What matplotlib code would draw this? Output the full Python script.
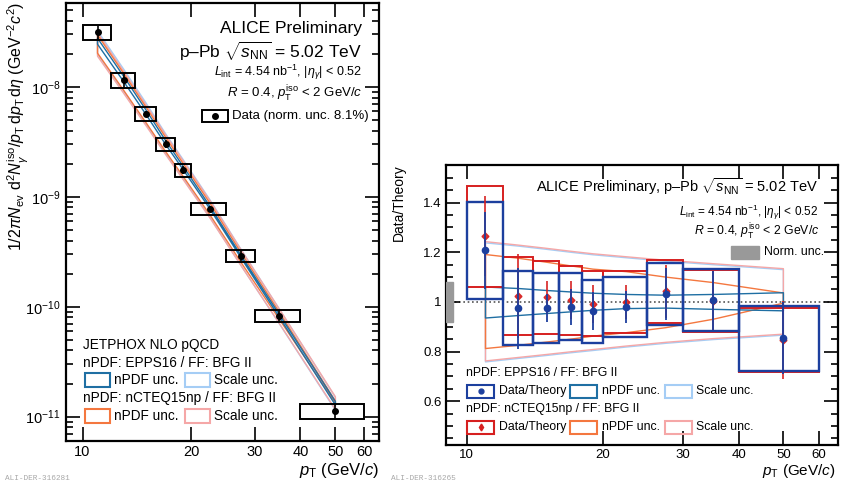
import numpy as np
import matplotlib
matplotlib.use("Agg")
import matplotlib.pyplot as plt
import matplotlib.transforms as mtransforms
from matplotlib.patches import Rectangle
from matplotlib.ticker import FixedLocator, NullLocator, LogLocator, NullFormatter, MultipleLocator

plt.rcParams['font.family'] = ['Liberation Sans', 'DejaVu Sans']
plt.rcParams['mathtext.fontset'] = 'custom'
plt.rcParams['mathtext.rm'] = 'Liberation Sans'
plt.rcParams['mathtext.it'] = 'Liberation Sans:italic'
plt.rcParams['mathtext.bf'] = 'Liberation Sans:bold'
plt.rcParams['mathtext.sf'] = 'Liberation Sans'

# ---- data ----
pt = [11, 13, 15, 17, 19, 22.5, 27.5, 35, 50]
bin_lo = [10, 12, 14, 16, 18, 20, 25, 30, 40]
bin_hi = [12, 14, 16, 18, 20, 25, 30, 40, 60]
yield_data = [3.16e-8, 1.15e-8, 5.7e-9, 3.03e-9, 1.75e-9, 7.8e-10, 2.9e-10, 8.3e-11, 1.13e-11]
sys_rel = [0.161, 0.153, 0.145, 0.138, 0.132, 0.125, 0.121, 0.124, 0.153]

ratio_epps = [1.208, 0.975, 0.975, 0.98, 0.963, 0.979, 1.031, 1.006, 0.854]
stat_epps = [0.155, 0.163, 0.058, 0.074, 0.078, 0.066, 0.105, 0.12, 0.145]
ratio_ncteq = [1.265, 1.023, 1.018, 1.007, 0.992, 0.999, 1.042, 1.005, 0.845]
stat_ncteq = [0.16, 0.17, 0.065, 0.076, 0.078, 0.068, 0.105, 0.12, 0.157]

# theory bands relative to their own central value
epps_npdf_hi = [1.06, 1.054, 1.046, 1.04, 1.035, 1.03, 1.027, 1.03, 1.037]
epps_npdf_lo = [0.935, 0.945, 0.953, 0.96, 0.966, 0.973, 0.975, 0.97, 0.964]
epps_scale_hi = [1.238, 1.225, 1.212, 1.2, 1.19, 1.178, 1.164, 1.15, 1.13]
epps_scale_lo = [0.758, 0.772, 0.784, 0.795, 0.804, 0.818, 0.833, 0.848, 0.866]
ncteq_npdf_hi = [1.191, 1.176, 1.16, 1.145, 1.132, 1.122, 1.10, 1.078, 1.036]
ncteq_npdf_lo = [0.812, 0.825, 0.838, 0.85, 0.862, 0.876, 0.896, 0.93, 0.995]
ncteq_scale_hi = [1.243, 1.229, 1.216, 1.204, 1.194, 1.182, 1.168, 1.154, 1.134]
ncteq_scale_lo = [0.762, 0.776, 0.788, 0.799, 0.808, 0.822, 0.837, 0.852, 0.870]

norm_unc = 0.081
xticks = [10, 20, 30, 40, 50, 60]

c_npdf_epps = '#1f6fa3'
c_scale_epps = '#a5cdf5'
c_npdf_ncteq = '#f4773f'
c_scale_ncteq = '#f5a7a7'
c_blue = '#1c3f9e'
c_red = '#d61f1f'

W, H = 842, 487
fig = plt.figure(figsize=(W / 100, H / 100), dpi=100)


def frame(x0, y0, x1, y1):
    return [x0 / W, 1 - y1 / H, (x1 - x0) / W, (y1 - y0) / H]


ax1 = fig.add_axes(frame(66, 3, 379, 441))
ax2 = fig.add_axes(frame(446, 165, 838, 445))
ov = fig.add_axes([0, 0, 1, 1], zorder=10)
ov.set_xlim(0, W)
ov.set_ylim(H, 0)
ov.axis('off')


def style(ax, lab):
    for s in ax.spines.values():
        s.set_linewidth(1.6)
    ax.set_xscale('log')
    ax.set_xlim(9, 66)
    ax.xaxis.set_major_locator(FixedLocator(xticks))
    ax.xaxis.set_minor_locator(NullLocator())
    ax.set_xticklabels([str(t) for t in xticks])
    ax.tick_params(which='both', direction='in', top=True, right=True, width=1.2, labelsize=lab)
    ax.tick_params(which='major', length=10)
    ax.tick_params(which='minor', length=5)
    ax.tick_params(axis='x', pad=3)
    ax.tick_params(axis='y', pad=4)


pt_a = np.array(pt)
y_a = np.array(yield_data)
rel_stat = np.array(stat_epps) / np.array(ratio_epps)
th_epps = y_a / np.array(ratio_epps)
th_ncteq = y_a / np.array(ratio_ncteq)

# ---- left panel: spectrum ----
style(ax1, 10.5)
ax1.set_yscale('log')
ax1.set_ylim(6e-12, 5.8e-8)
ax1.yaxis.set_major_locator(LogLocator(base=10))
ax1.yaxis.set_minor_locator(LogLocator(base=10, subs=np.arange(2, 10)))
ax1.yaxis.set_minor_formatter(NullFormatter())

bands = [
    (epps_scale_lo, epps_scale_hi, th_epps, c_scale_epps),
    (ncteq_scale_lo, ncteq_scale_hi, th_ncteq, c_scale_ncteq),
    (ncteq_npdf_lo, ncteq_npdf_hi, th_ncteq, c_npdf_ncteq),
    (epps_npdf_lo, epps_npdf_hi, th_epps, c_npdf_epps),
]
for lo, hi, th, c in bands:
    ax1.fill_between(pt_a, th * np.array(lo), th * np.array(hi), facecolor='none', edgecolor=c, lw=1.0)

for i in range(len(pt)):
    ax1.add_patch(Rectangle((bin_lo[i], yield_data[i] * (1 - sys_rel[i])), bin_hi[i] - bin_lo[i],
                            2 * sys_rel[i] * yield_data[i], fill=False, ec='k', lw=1.4, zorder=4))
ax1.errorbar(pt_a, y_a, yerr=y_a * rel_stat, fmt='o', color='k', ms=4, elinewidth=1.2, capsize=0, zorder=5)

# ---- right panel: data / theory ----
style(ax2, 9.5)
ax2.set_ylim(0.423, 1.552)
ax2.yaxis.set_major_locator(FixedLocator([0.6, 0.8, 1.0, 1.2, 1.4]))
ax2.set_yticklabels(['0.6', '0.8', '1', '1.2', '1.4'])
ax2.yaxis.set_minor_locator(MultipleLocator(0.05))
ax2.tick_params(axis='y', pad=3)

ax2.axhline(1, color='#555555', ls=(0, (1, 1.6)), lw=1.2, zorder=1)
blend = mtransforms.blended_transform_factory(ax2.transAxes, ax2.transData)
ax2.add_patch(Rectangle((0, 1 - norm_unc), 0.018, 2 * norm_unc, transform=blend, color='#999999', zorder=3))

for lo, hi, c in [(epps_scale_lo, epps_scale_hi, c_scale_epps),
                  (ncteq_scale_lo, ncteq_scale_hi, c_scale_ncteq),
                  (ncteq_npdf_lo, ncteq_npdf_hi, c_npdf_ncteq),
                  (epps_npdf_lo, epps_npdf_hi, c_npdf_epps)]:
    ax2.fill_between(pt_a, lo, hi, facecolor='none', edgecolor=c, lw=1.0, zorder=2)

for ratio, c, lw in [(ratio_ncteq, c_red, 1.4), (ratio_epps, c_blue, 1.7)]:
    for i in range(len(pt)):
        ax2.add_patch(Rectangle((bin_lo[i], ratio[i] * (1 - sys_rel[i])), bin_hi[i] - bin_lo[i],
                                2 * sys_rel[i] * ratio[i], fill=False, ec=c, lw=lw, zorder=4))

ax2.errorbar(pt_a, ratio_ncteq, yerr=stat_ncteq, fmt='D', color=c_red, ms=3.5, elinewidth=1.3,
             capsize=0, alpha=0.9, zorder=5)
ax2.errorbar(pt_a, ratio_epps, yerr=stat_epps, fmt='o', color=c_blue, ms=4.5, elinewidth=1.3,
             capsize=0, zorder=6)

# ---- texts, left ----
ov.text(18, 2, r'$1/2\pi N_{\rm ev}\ {\rm d}^2N_{\gamma}^{\rm iso}/p_{\rm T}\,{\rm d}p_{\rm T}\,{\rm d}\eta\ ({\rm GeV}^{-2}c^2)$',
        rotation=90, ha='center', va='top', fontsize=11.5)
ov.text(379, 471, r'$p_{\rm T}$ (GeV/$c$)', ha='right', va='center', fontsize=12)
ov.text(362, 28, 'ALICE Preliminary', ha='right', va='center', fontsize=12.5)
ov.text(362, 51, r'p–Pb $\sqrt{s_{\rm NN}}$ = 5.02 TeV', ha='right', va='center', fontsize=12.5)
ov.text(362, 72, r'$L_{\rm int}$ = 4.54 nb$^{-1}$, |$\eta_{\gamma}$| < 0.52', ha='right', va='center', fontsize=9)
ov.text(362, 94, r'$R$ = 0.4, $p_{\rm T}^{\rm iso}$ < 2 GeV/$c$', ha='right', va='center', fontsize=9.5)
ov.add_patch(Rectangle((202, 109.5), 26, 12.5, fill=False, ec='k', lw=1.4))
ov.plot([215], [115.7], 'o', color='k', ms=4)
ov.text(232, 115.7, 'Data (norm. unc. 8.1%)', ha='left', va='center', fontsize=9.5)

ov.text(83, 345, 'JETPHOX NLO pQCD', ha='left', va='center', fontsize=9.8)
ov.text(83, 363, 'nPDF: EPPS16 / FF: BFG II', ha='left', va='center', fontsize=9.8)
ov.text(83, 398, 'nPDF: nCTEQ15np / FF: BFG II', ha='left', va='center', fontsize=9.8)
for yy, c1, c2 in [(380, c_npdf_epps, c_scale_epps), (416, c_npdf_ncteq, c_scale_ncteq)]:
    ov.add_patch(Rectangle((84.5, yy - 7), 25.5, 14, fill=False, ec=c1, lw=1.5))
    ov.text(114, yy, 'nPDF unc.', ha='left', va='center', fontsize=9.8)
    ov.add_patch(Rectangle((184.5, yy - 7), 25.5, 14, fill=False, ec=c2, lw=1.5))
    ov.text(214, yy, 'Scale unc.', ha='left', va='center', fontsize=9.8)

# ---- texts, right ----
ov.text(399, 164, 'Data/Theory', rotation=90, ha='center', va='top', fontsize=10)
ov.text(836, 471, r'$p_{\rm T}$ (GeV/$c$)', ha='right', va='center', fontsize=11)
ov.text(818, 187, r'ALICE Preliminary, p–Pb $\sqrt{s_{\rm NN}}$ = 5.02 TeV', ha='right', va='center', fontsize=10.5)
ov.text(818, 212, r'$L_{\rm int}$ = 4.54 nb$^{-1}$, |$\eta_{\gamma}$| < 0.52', ha='right', va='center', fontsize=8.5)
ov.text(819, 232, r'$R$ = 0.4, $p_{\rm T}^{\rm iso}$ < 2 GeV/$c$', ha='right', va='center', fontsize=8.8)
ov.add_patch(Rectangle((731, 246), 28, 12.5, color='#999999'))
ov.text(764, 252, 'Norm. unc.', ha='left', va='center', fontsize=8.8)

ov.text(466, 373, 'nPDF: EPPS16 / FF: BFG II', ha='left', va='center', fontsize=8.8)
ov.text(466, 409, 'nPDF: nCTEQ15np / FF: BFG II', ha='left', va='center', fontsize=8.8)
for yy, cd, mk, c1, c2 in [(391, c_blue, 'o', c_npdf_epps, c_scale_epps),
                           (427, c_red, 'd', c_npdf_ncteq, c_scale_ncteq)]:
    ov.add_patch(Rectangle((467, yy - 6.5), 27, 13, fill=False, ec=cd, lw=1.5))
    ov.plot([480.5], [yy], mk, color=cd, ms=3.5)
    ov.text(499, yy, 'Data/Theory', ha='left', va='center', fontsize=8.8)
    ov.add_patch(Rectangle((570, yy - 6.5), 27, 13, fill=False, ec=c1, lw=1.5))
    ov.text(602, yy, 'nPDF unc.', ha='left', va='center', fontsize=8.8)
    ov.add_patch(Rectangle((664.5, yy - 6.5), 27, 13, fill=False, ec=c2, lw=1.5))
    ov.text(696, yy, 'Scale unc.', ha='left', va='center', fontsize=8.8)

fig.text(5 / W, 1 - 478 / H, 'ALI-DER-316281', ha='left', va='center', fontsize=5.6,
         family='Liberation Mono', color='#a8a8a8')
fig.text(391 / W, 1 - 478 / H, 'ALI-DER-316265', ha='left', va='center', fontsize=5.6,
         family='Liberation Mono', color='#a8a8a8')

fig.savefig('out.png', dpi=100)
